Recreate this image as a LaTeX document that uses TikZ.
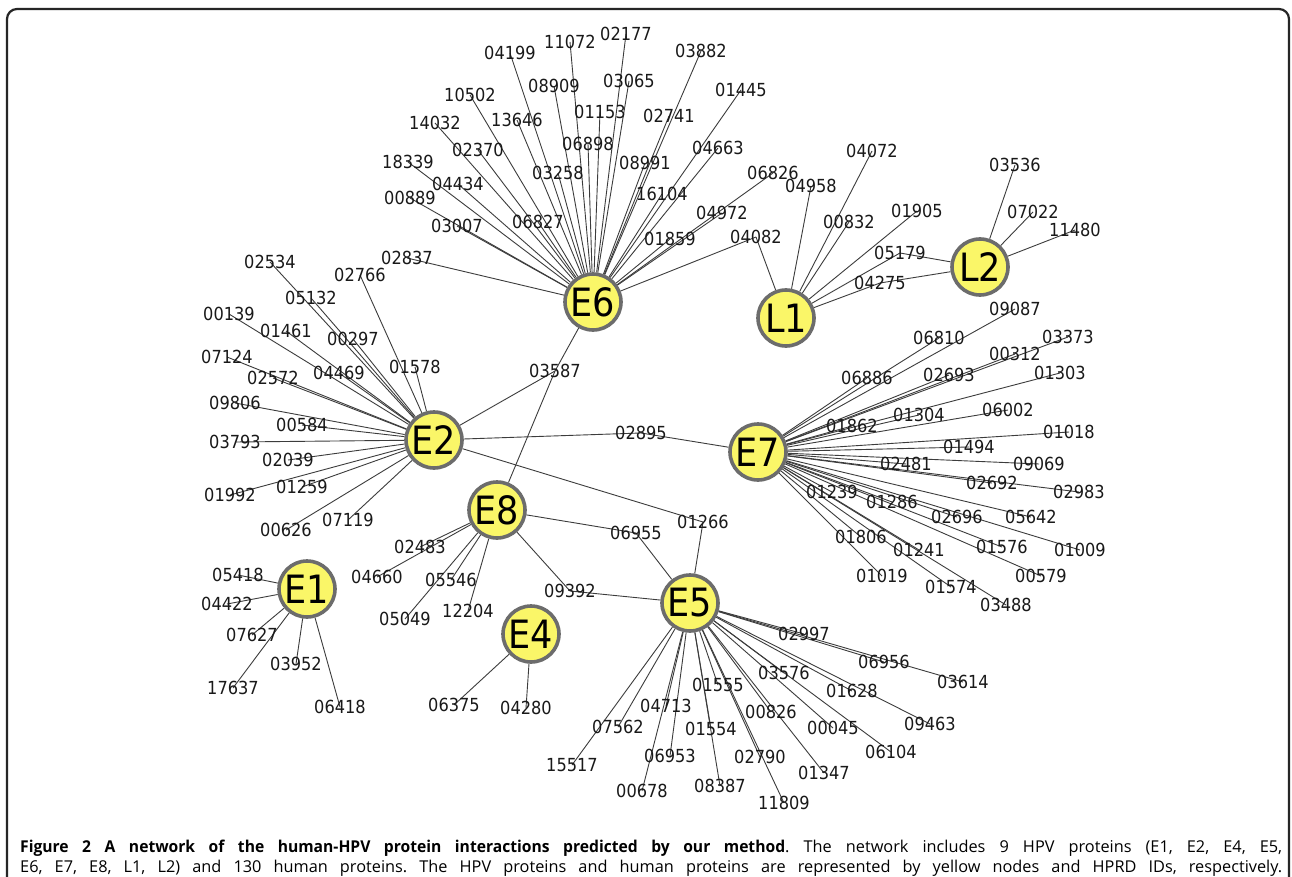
\documentclass[tikz,border=0pt]{standalone}
\usepackage{fontspec}
\newfontfamily\labfont[FakeStretch=0.9]{DejaVu Sans}
\newfontfamily\capfont[BoldFeatures={FakeStretch=0.96}]{Open Sans}
\definecolor{hubfill}{RGB}{250,246,104}
\definecolor{hubline}{RGB}{108,108,108}
\definecolor{edgecol}{RGB}{60,60,60}
\definecolor{txt}{RGB}{25,25,25}
\pgfdeclarelayer{bg}
\pgfsetlayers{bg,main}
\tikzset{
  lab/.style={inner sep=0pt, text=txt, font=\labfont\fontsize{18}{20}\selectfont},
  hub/.style={circle, draw=hubline, fill=hubfill, line width=3.6pt, minimum size=56pt, inner sep=0pt, text=black, font=\labfont\fontsize{39}{42}\selectfont},
  edge/.style={draw=edgecol, line width=0.9pt},
  frame/.style={draw=black!85, line width=2.2pt, rounded corners=10pt},
  captext/.style={anchor=base west, inner sep=0pt, font=\capfont\fontsize{16.3}{19}\selectfont}
}
\def\listEsix{04199/510/53, 11072/570/42, 02177/626/34, 03882/701/51, 08909/554/86, 03065/629/81, 01445/741/90, 10502/470/95, 13646/517/120, 01153/600/112, 02741/669/116, 14032/435/123, 02370/478/150, 06898/588/144, 04663/718/148, 18339/408/162, 08991/645/163, 03258/558/173, 06826/773/173, 04434/458/184, 16104/662/194, 00889/410/198, 04972/722/213, 06827/538/222, 03007/457/226, 01859/670/239, 02837/407/258}
\def\listShared{04082/756/237, 03587/555/371, 02895/641/433, 01266/703/522, 06955/636/533, 09392/570/591, 05179/900/253, 04275/880/283}
\def\listLone{04958/811/186, 04072/872/151, 00832/849/222, 01905/917/211}
\def\listLtwo{03536/1015/165, 07022/1033/212, 11480/1075/230}
\def\listEseven{09087/1015/309, 06810/939/338, 03373/1068/337, 00312/1015/354, 06886/867/378, 02693/949/375, 01303/1060/373, 01304/919/415, 06002/1008/410, 01862/852/426, 01018/1069/432, 01494/969/447, 02481/906/464, 09069/1039/464, 02692/992/483, 02983/1079/492, 01239/832/492, 01286/892/502, 02696/957/517, 05642/1031/517, 01806/861/537, 01241/919/550, 01576/1002/547, 01009/1080/550, 01019/882/576, 01574/951/587, 00579/1041/576, 03488/1006/605}
\def\listEtwo{02534/270/262, 02766/360/275, 05132/311/298, 00139/229/314, 01461/286/331, 00297/353/339, 07124/227/357, 04469/339/373, 01578/415/367, 02572/273/378, 09806/235/403, 00584/302/425, 03793/235/442, 02039/288/460, 01259/302/487, 01992/230/495, 07119/348/520, 00626/286/530}
\def\listEeight{02483/420/547, 04660/377/577, 05546/451/580, 05049/405/619, 12204/468/611}
\def\listEone{05418/238/575, 04422/227/604, 07627/252/635, 03952/296/664, 17637/233/688, 06418/340/707}
\def\listEfour{06375/454/705, 04280/526/708}
\def\listEfive{02997/804/634, 06956/884/662, 03614/963/682, 03576/784/673, 01628/852/691, 01555/718/685, 04713/666/706, 00826/771/712, 09463/930/724, 07562/618/727, 01554/711/729, 00045/833/728, 06104/891/752, 06953/670/756, 02790/760/757, 01347/824/773, 15517/572/765, 00678/642/791, 08387/720/786, 11809/784/803}
\begin{document}
\begin{tikzpicture}[x=1pt,y=-1pt]
\useasboundingbox (0,0) rectangle (1292,877);
\clip (0,0) rectangle (1292,877);
\begin{pgfonlayer}{bg}
\fill[white] (0,0) rectangle (1292,877);
\end{pgfonlayer}
\draw[frame] (7,900) -- (7,9) -- (1289,9) -- (1289,900);
% human protein labels
\foreach \id/\px/\py in \listEsix { \node[lab] (p\id) at (\px,\py) {\id}; }
\foreach \id/\px/\py in \listShared { \node[lab] (p\id) at (\px,\py) {\id}; }
\foreach \id/\px/\py in \listLone { \node[lab] (p\id) at (\px,\py) {\id}; }
\foreach \id/\px/\py in \listLtwo { \node[lab] (p\id) at (\px,\py) {\id}; }
\foreach \id/\px/\py in \listEseven { \node[lab] (p\id) at (\px,\py) {\id}; }
\foreach \id/\px/\py in \listEtwo { \node[lab] (p\id) at (\px,\py) {\id}; }
\foreach \id/\px/\py in \listEeight { \node[lab] (p\id) at (\px,\py) {\id}; }
\foreach \id/\px/\py in \listEone { \node[lab] (p\id) at (\px,\py) {\id}; }
\foreach \id/\px/\py in \listEfour { \node[lab] (p\id) at (\px,\py) {\id}; }
\foreach \id/\px/\py in \listEfive { \node[lab] (p\id) at (\px,\py) {\id}; }
% HPV protein hubs
\node[hub] (E6) at (593,302) {E6};
\node[hub] (L1) at (786,318) {L1};
\node[hub] (L2) at (980,267) {L2};
\node[hub] (E2) at (434,440) {E2};
\node[hub] (E7) at (758,452) {E7};
\node[hub] (E8) at (497,510) {E8};
\node[hub] (E1) at (307,589) {E1};
\node[hub] (E4) at (531,634) {E4};
\node[hub] (E5) at (690,603) {E5};
% connectors
\begin{pgfonlayer}{bg}
\foreach \id/\px/\py in \listEsix { \draw[edge] (E6) -- (p\id.center); }
\draw[edge] (E6) -- (p04082.center);
\draw[edge] (E6) -- (p03587.center);
\foreach \id/\px/\py in \listLone { \draw[edge] (L1) -- (p\id.center); }
\draw[edge] (L1) -- (p05179.center);
\draw[edge] (L1) -- (p04275.center);
\draw[edge] (L1) -- (p04082.center);
\foreach \id/\px/\py in \listLtwo { \draw[edge] (L2) -- (p\id.center); }
\draw[edge] (L2) -- (p05179.center);
\draw[edge] (L2) -- (p04275.center);
\foreach \id/\px/\py in \listEtwo { \draw[edge] (E2) -- (p\id.center); }
\draw[edge] (E2) -- (p03587.center);
\draw[edge] (E2) -- (p02895.center);
\draw[edge] (E2) -- (p01266.center);
\foreach \id/\px/\py in \listEseven { \draw[edge] (E7) -- (p\id.center); }
\draw[edge] (E7) -- (p02895.center);
\foreach \id/\px/\py in \listEeight { \draw[edge] (E8) -- (p\id.center); }
\draw[edge] (E8) -- (p03587.center);
\draw[edge] (E8) -- (p06955.center);
\draw[edge] (E8) -- (p09392.center);
\foreach \id/\px/\py in \listEfive { \draw[edge] (E5) -- (p\id.center); }
\draw[edge] (E5) -- (p01266.center);
\draw[edge] (E5) -- (p06955.center);
\draw[edge] (E5) -- (p09392.center);
\foreach \id/\px/\py in \listEone { \draw[edge] (E1) -- (p\id.center); }
\foreach \id/\px/\py in \listEfour { \draw[edge] (E4) -- (p\id.center); }
\end{pgfonlayer}
% caption
\node[captext] (cap1) at (20,852)
  {\frenchspacing\makebox[1262pt][s]{\textbf{Figure 2 A network of the human-HPV protein interactions predicted by our method}. The network includes 9 HPV proteins (E1, E2, E4, E5,}};
\node[captext] (cap2) at (20,872)
  {\frenchspacing\makebox[1262pt][s]{E6, E7, E8, L1, L2) and 130 human proteins. The HPV proteins and human proteins are represented by yellow nodes and HPRD IDs, respectively.}};
\end{tikzpicture}
\end{document}
